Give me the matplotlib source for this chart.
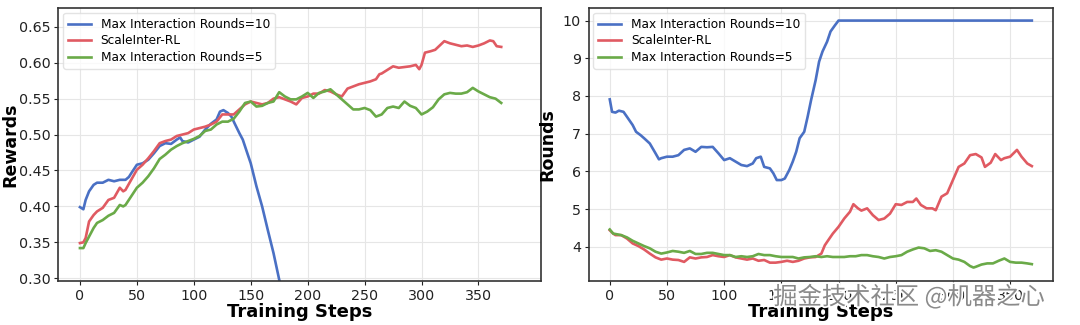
import matplotlib
matplotlib.use("Agg")
import matplotlib.pyplot as plt
import matplotlib.patheffects as pe

# ---------------- data ----------------
labels = ["Max Interaction Rounds=10", "ScaleInter-RL", "Max Interaction Rounds=5"]

# Left: Rewards
rw_blue_x = [0, 3, 5, 8, 12, 15, 20, 25, 30, 35, 40, 43, 45, 50, 55, 60, 65, 70, 75, 80, 85, 88, 90, 95,
             100, 105, 110, 115, 120, 123, 126, 130, 133, 136, 140, 143, 147, 150, 155, 160, 165, 170, 175, 180]
rw_blue_y = [0.399, 0.396, 0.409, 0.421, 0.430, 0.433, 0.433, 0.437, 0.435, 0.437, 0.437, 0.441, 0.446, 0.458,
             0.460, 0.465, 0.474, 0.484, 0.488, 0.487, 0.493, 0.496, 0.491, 0.489, 0.493, 0.497, 0.507, 0.515,
             0.521, 0.532, 0.534, 0.530, 0.525, 0.515, 0.502, 0.493, 0.474, 0.460, 0.428, 0.400, 0.367, 0.335,
             0.298, 0.270]

rw_red_x = [0, 3, 5, 8, 12, 15, 20, 25, 30, 35, 38, 40, 45, 50, 55, 60, 65, 70, 75, 80, 85, 90, 95, 100,
            105, 110, 115, 120, 125, 130, 135, 140, 145, 150, 155, 160, 165, 170, 175, 180, 185, 190, 195,
            200, 205, 210, 215, 220, 225, 230, 235, 240, 245, 250, 255, 260, 263, 265, 270, 275, 280, 285,
            290, 295, 298, 300, 303, 308, 312, 316, 320, 325, 330, 335, 340, 345, 350, 355, 360, 363, 366, 370]
rw_red_y = [0.349, 0.350, 0.356, 0.379, 0.388, 0.393, 0.398, 0.409, 0.412, 0.426, 0.421, 0.423, 0.437, 0.451,
            0.458, 0.467, 0.477, 0.488, 0.491, 0.493, 0.498, 0.500, 0.502, 0.507, 0.509, 0.511, 0.514, 0.518,
            0.528, 0.528, 0.528, 0.535, 0.542, 0.546, 0.544, 0.542, 0.544, 0.550, 0.552, 0.549, 0.546, 0.542,
            0.551, 0.553, 0.557, 0.557, 0.562, 0.560, 0.556, 0.553, 0.564, 0.567, 0.570, 0.572, 0.574, 0.577,
            0.584, 0.585, 0.590, 0.595, 0.593, 0.594, 0.595, 0.597, 0.591, 0.597, 0.614, 0.616, 0.618, 0.624,
            0.630, 0.627, 0.625, 0.623, 0.624, 0.622, 0.624, 0.627, 0.631, 0.630, 0.623, 0.622]

rw_green_x = [0, 3, 5, 8, 12, 15, 20, 25, 30, 35, 38, 40, 45, 50, 55, 60, 65, 70, 75, 80, 85, 90, 95, 100,
              105, 110, 115, 120, 125, 130, 135, 140, 145, 150, 155, 160, 165, 170, 175, 180, 185, 190, 195,
              200, 205, 210, 215, 220, 225, 230, 235, 240, 245, 250, 255, 260, 265, 270, 275, 280, 285, 290,
              295, 300, 305, 310, 315, 320, 325, 330, 335, 340, 345, 350, 355, 360, 365, 370]
rw_green_y = [0.342, 0.342, 0.349, 0.358, 0.370, 0.377, 0.381, 0.387, 0.391, 0.402, 0.400, 0.402, 0.414,
              0.426, 0.433, 0.442, 0.453, 0.466, 0.472, 0.479, 0.484, 0.488, 0.491, 0.494, 0.498, 0.505,
              0.507, 0.514, 0.518, 0.518, 0.522, 0.532, 0.544, 0.546, 0.539, 0.540, 0.544, 0.546, 0.559,
              0.553, 0.549, 0.549, 0.553, 0.558, 0.551, 0.558, 0.560, 0.563, 0.556, 0.549, 0.542, 0.535,
              0.535, 0.537, 0.534, 0.525, 0.528, 0.537, 0.539, 0.537, 0.546, 0.540, 0.537, 0.528, 0.532,
              0.538, 0.549, 0.556, 0.558, 0.557, 0.557, 0.559, 0.565, 0.560, 0.556, 0.552, 0.550, 0.544]

# Right: Rounds
rd_blue_x = [0, 2, 5, 8, 12, 15, 20, 23, 27, 30, 35, 40, 43, 45, 50, 55, 60, 65, 70, 75, 80, 85, 90, 95,
             100, 105, 110, 115, 120, 125, 128, 132, 135, 140, 143, 146, 150, 153, 157, 160, 163, 166, 170,
             173, 176, 180, 183, 186, 190, 193, 197, 200, 369]
rd_blue_y = [7.91, 7.58, 7.56, 7.61, 7.58, 7.45, 7.23, 7.05, 6.96, 6.88, 6.74, 6.48, 6.32, 6.35, 6.39, 6.39,
             6.43, 6.57, 6.61, 6.52, 6.65, 6.64, 6.65, 6.48, 6.30, 6.35, 6.26, 6.17, 6.14, 6.21, 6.35, 6.39,
             6.12, 6.08, 5.95, 5.77, 5.77, 5.81, 6.04, 6.26, 6.52, 6.88, 7.05, 7.45, 7.89, 8.42, 8.91, 9.18,
             9.44, 9.71, 9.88, 10.0, 10.0]

rd_red_x = [0, 3, 5, 10, 15, 20, 25, 30, 35, 40, 45, 50, 55, 60, 65, 70, 75, 80, 85, 90, 95, 100, 105, 110,
            115, 120, 125, 130, 135, 140, 145, 150, 155, 160, 165, 170, 175, 180, 185, 188, 190, 195, 200,
            205, 210, 213, 217, 220, 225, 230, 235, 240, 245, 250, 255, 260, 265, 268, 272, 277, 282, 285,
            290, 295, 300, 305, 310, 315, 320, 325, 328, 333, 337, 342, 345, 350, 356, 360, 365, 369]
rd_red_y = [4.44, 4.35, 4.31, 4.31, 4.22, 4.09, 4.02, 3.93, 3.82, 3.72, 3.66, 3.69, 3.66, 3.65, 3.60, 3.72,
            3.69, 3.72, 3.73, 3.78, 3.75, 3.73, 3.78, 3.72, 3.69, 3.66, 3.69, 3.63, 3.65, 3.58, 3.58, 3.60,
            3.63, 3.60, 3.63, 3.69, 3.72, 3.73, 3.82, 4.04, 4.13, 4.35, 4.53, 4.75, 4.93, 5.13, 5.02, 4.96,
            5.02, 4.84, 4.71, 4.75, 4.88, 5.13, 5.11, 5.19, 5.19, 5.28, 5.11, 5.02, 5.02, 4.97, 5.33, 5.42,
            5.77, 6.12, 6.21, 6.43, 6.46, 6.37, 6.12, 6.23, 6.46, 6.30, 6.35, 6.39, 6.57, 6.39, 6.21, 6.14]

rd_green_x = [0, 3, 5, 10, 15, 20, 25, 30, 35, 40, 45, 50, 55, 60, 65, 70, 75, 80, 85, 90, 95, 100, 105,
              110, 115, 120, 125, 130, 135, 140, 145, 150, 155, 160, 165, 170, 175, 180, 185, 190, 195, 200,
              205, 210, 215, 220, 225, 230, 235, 240, 245, 250, 255, 260, 265, 270, 275, 280, 285, 290, 295,
              300, 305, 310, 315, 318, 320, 325, 330, 335, 340, 345, 350, 355, 360, 365, 369]
rd_green_y = [4.46, 4.35, 4.34, 4.31, 4.25, 4.16, 4.09, 4.02, 3.96, 3.87, 3.82, 3.85, 3.89, 3.87, 3.84,
              3.89, 3.81, 3.81, 3.84, 3.84, 3.81, 3.78, 3.78, 3.73, 3.75, 3.73, 3.75, 3.81, 3.78, 3.78, 3.75,
              3.73, 3.73, 3.73, 3.69, 3.72, 3.73, 3.75, 3.73, 3.75, 3.73, 3.73, 3.73, 3.75, 3.75, 3.78, 3.78,
              3.75, 3.73, 3.69, 3.73, 3.75, 3.78, 3.87, 3.93, 3.98, 3.96, 3.89, 3.91, 3.87, 3.78, 3.69, 3.66,
              3.60, 3.49, 3.45, 3.47, 3.53, 3.56, 3.56, 3.63, 3.69, 3.60, 3.58, 3.58, 3.56, 3.54]

# ---------------- style ----------------
colors = ["#4a70c4", "#e05a62", "#6aaa48"]
LW = 1.9

fig = plt.figure(figsize=(10.8, 3.25), dpi=100)
axL = fig.add_axes([0.054, 0.135, 0.447, 0.840])
axR = fig.add_axes([0.545, 0.135, 0.430, 0.840])

def style(ax):
    ax.grid(True, color="#e6e6e6", linewidth=0.8)
    ax.set_axisbelow(True)
    for s in ax.spines.values():
        s.set_color("#333333")
        s.set_linewidth(1.2)
    ax.tick_params(labelsize=10.3, colors="#222222", length=3, pad=2.5)
    ax.set_xlabel("Training Steps", fontsize=13, fontweight="bold", labelpad=0)

def legend(ax):
    ax.legend(loc="upper left", fontsize=8.7, frameon=True, framealpha=0.8, edgecolor="#dddddd",
              handlelength=1.9, borderaxespad=0.4, labelspacing=0.3)

axL.plot(rw_blue_x, rw_blue_y, color=colors[0], lw=LW, label=labels[0])
axL.plot(rw_red_x, rw_red_y, color=colors[1], lw=LW, label=labels[1])
axL.plot(rw_green_x, rw_green_y, color=colors[2], lw=LW, label=labels[2])
axL.set_xlim(-19, 405)
axL.set_ylim(0.296, 0.676)
axL.set_xticks([0, 50, 100, 150, 200, 250, 300, 350])
axL.set_yticks([0.30, 0.35, 0.40, 0.45, 0.50, 0.55, 0.60, 0.65])
axL.set_ylabel("Rewards", fontsize=12.5, fontweight="bold")
style(axL)
axL.yaxis.set_label_coords(-0.080, 0.5)
legend(axL)

axR.plot(rd_blue_x, rd_blue_y, color=colors[0], lw=LW, label=labels[0])
axR.plot(rd_red_x, rd_red_y, color=colors[1], lw=LW, label=labels[1])
axR.plot(rd_green_x, rd_green_y, color=colors[2], lw=LW, label=labels[2])
axR.set_xlim(-18.5, 387.5)
axR.set_ylim(3.09, 10.33)
axR.set_xticks([0, 50, 100, 150, 200, 250, 300, 350])
axR.set_yticks([4, 5, 6, 7, 8, 9, 10])
axR.set_ylabel("Rounds", fontsize=12.5, fontweight="bold")
style(axR)
axR.yaxis.set_label_coords(-0.069, 0.5)
legend(axR)

# watermark
fig.text(0.716, 0.085, "掘金技术社区 @机器之心", fontsize=17.5, color="#8a8a8a",
         family=["Noto Sans CJK SC", "DejaVu Sans"], ha="left", va="center",
         path_effects=[pe.withStroke(linewidth=2.5, foreground="white")])

fig.savefig("out.png", dpi=100)
